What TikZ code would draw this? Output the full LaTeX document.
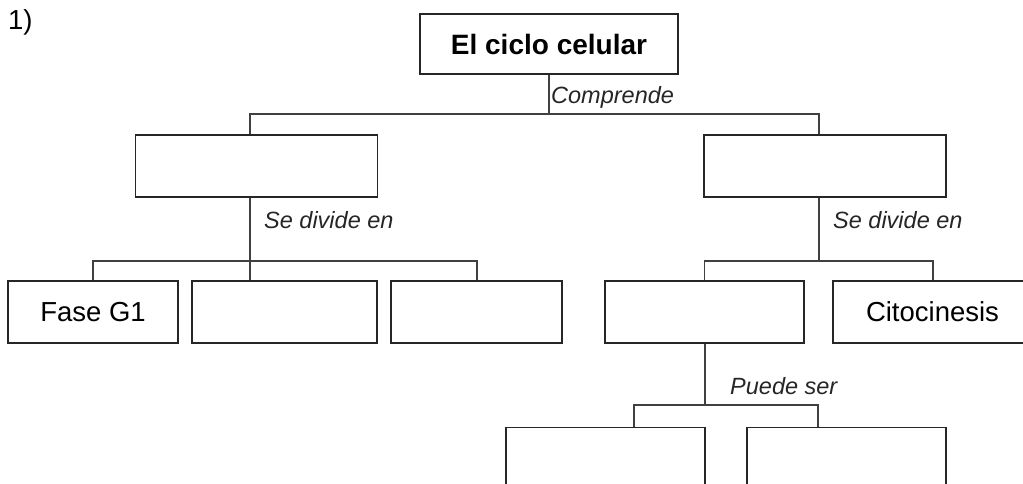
\documentclass[tikz,border=0pt]{standalone}
\usepackage{fontspec}
\setmainfont{Liberation Sans}
\tikzset{
  cbox/.style={draw=black!85, line width=1.3pt, inner sep=0pt, minimum height=62pt, fill=white},
  conn/.style={draw=black!75, line width=1.2pt},
  lbl/.style={anchor=west, inner sep=0pt, text=black!85, font=\fontsize{23.5}{23.5}\selectfont\itshape},
  btext/.style={font=\fontsize{27.5}{27.5}\selectfont}
}
\begin{document}
\begin{tikzpicture}[x=1pt,y=-1pt]
\useasboundingbox (0,0) rectangle (1023,483);
\clip (0,0) rectangle (1023,483);
\fill[white] (0,0) rectangle (1023,483);

\node[anchor=west, inner sep=0pt, btext] (num) at (8,22) {1)};

\node[cbox, minimum width=258pt, minimum height=60pt, font=\fontsize{28}{28}\selectfont\bfseries] (top) at (549,44) {El ciclo celular};

\node[cbox, minimum width=242pt] (L1) at (256.5,166) {};
\node[cbox, minimum width=242pt] (R1) at (825,166) {};

\node[cbox, minimum width=170pt, btext] (g1) at (93,312) {Fase G1};
\node[cbox, minimum width=185pt] (L2b) at (284.5,312) {};
\node[cbox, minimum width=171pt] (L2c) at (476.5,312) {};

\node[cbox, minimum width=199pt] (R2a) at (704.5,312) {};
\node[cbox, minimum width=199pt, btext] (cito) at (932.5,312) {Citocinesis};

\node[cbox, minimum width=199pt, minimum height=80pt, anchor=north] (R3a) at (605.5,427) {};
\node[cbox, minimum width=199pt, minimum height=80pt, anchor=north] (R3b) at (846.5,427) {};

% junction coordinates
\coordinate (jT) at (549,114);
\coordinate (bL) at (250,114);
\coordinate (bR) at (819,114);
\coordinate (hL) at (250,261);
\coordinate (hLa) at (93,261);
\coordinate (hLc) at (477,261);
\coordinate (hR) at (819,261);
\coordinate (hRa) at (704.5,261);
\coordinate (hRb) at (933,261);
\coordinate (h3) at (705,405);
\coordinate (h3a) at (634,405);
\coordinate (h3b) at (818,405);

% connectors
\draw[conn] (top.south) -- (jT);
\draw[conn] (bL |- L1.north) -- (bL) -- (bR) -- (bR |- R1.north);

\draw[conn] (hL |- L1.south) -- (hL |- L2b.north);
\draw[conn] (hLa |- g1.north) -- (hLa) -- (hLc) -- (hLc |- L2c.north);

\draw[conn] (hR |- R1.south) -- (hR);
\draw[conn] (hRa |- R2a.north) -- (hRa) -- (hRb) -- (hRb |- cito.north);

\draw[conn] (h3 |- R2a.south) -- (h3);
\draw[conn] (h3a |- R3a.north) -- (h3a) -- (h3b) -- (h3b |- R3b.north);

% labels
\node[lbl] (lc) at (551,97) {Comprende};
\node[lbl] (ld1) at (264,220) {Se divide en};
\node[lbl] (ld2) at (833,220) {Se divide en};
\node[lbl] (lp) at (730,386) {Puede ser};
\end{tikzpicture}
\end{document}
